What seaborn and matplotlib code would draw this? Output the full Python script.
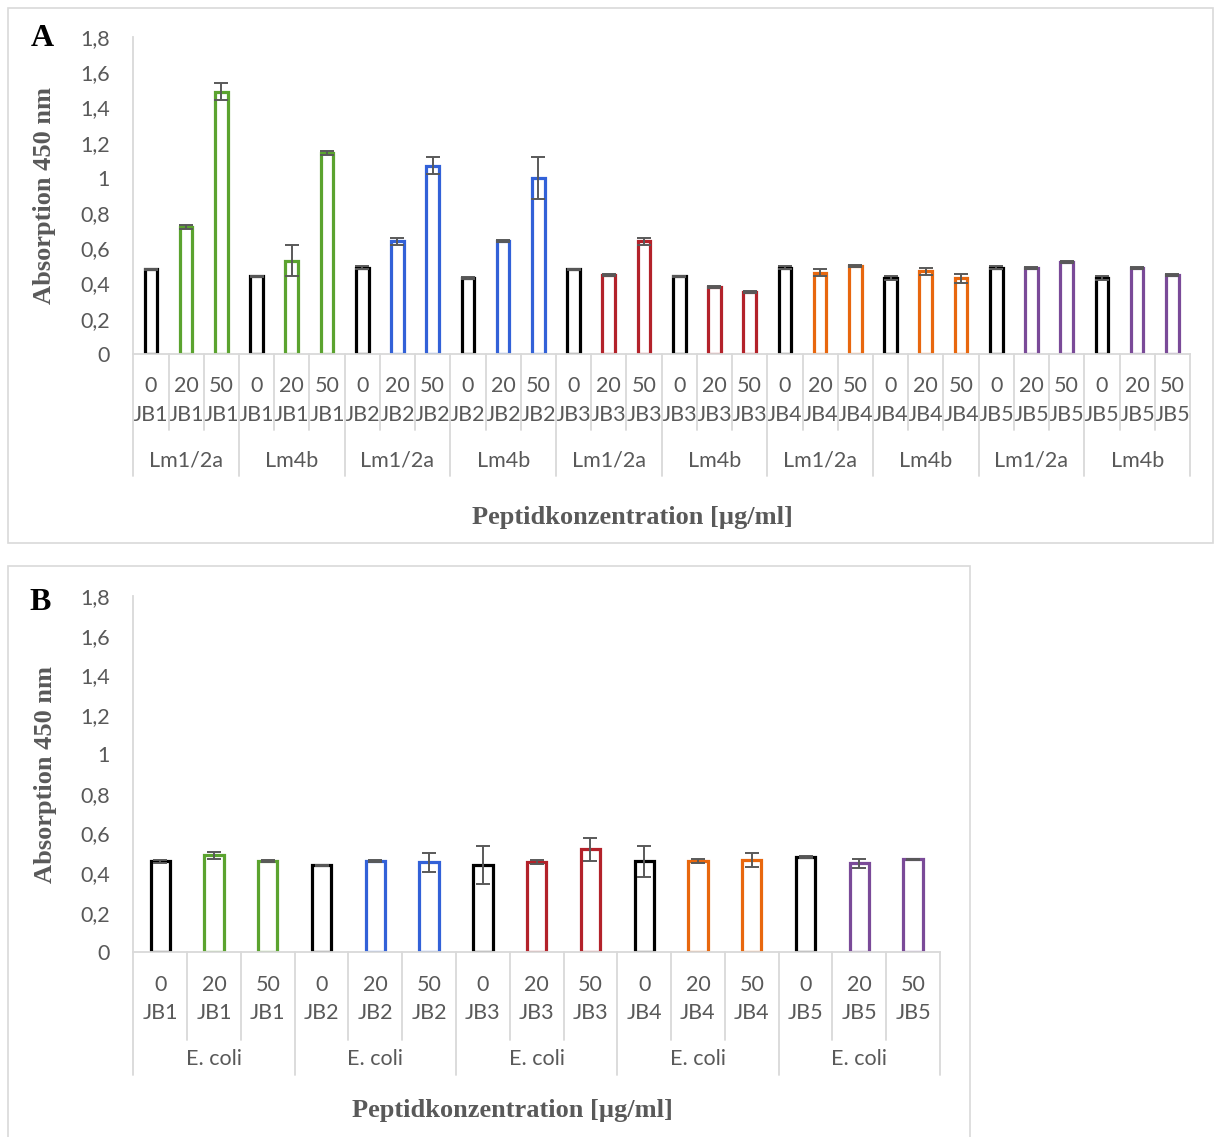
import numpy as np
import pandas as pd
import matplotlib
matplotlib.use('Agg')
import matplotlib.pyplot as plt
import matplotlib.transforms as mtransforms
from matplotlib.patches import Rectangle
import seaborn as sns

# ---- data ----
conc_a = ["0", "20", "50"] * 10
pep_a = ["JB1"] * 6 + ["JB2"] * 6 + ["JB3"] * 6 + ["JB4"] * 6 + ["JB5"] * 6
strain_a = ["Lm1/2a", "Lm4b"] * 5
val_a = [0.48, 0.72, 1.49, 0.44, 0.53, 1.14,
         0.49, 0.64, 1.07, 0.43, 0.64, 1.00,
         0.48, 0.45, 0.64, 0.44, 0.38, 0.35,
         0.49, 0.46, 0.50, 0.43, 0.47, 0.43,
         0.49, 0.49, 0.52, 0.43, 0.49, 0.45]
err_a = [0.005, 0.01, 0.05, 0.005, 0.09, 0.01,
         0.01, 0.02, 0.05, 0.005, 0.005, 0.12,
         0.005, 0.005, 0.02, 0.005, 0.005, 0.005,
         0.01, 0.02, 0.005, 0.01, 0.02, 0.025,
         0.01, 0.005, 0.005, 0.01, 0.005, 0.005]

conc_b = ["0", "20", "50"] * 5
pep_b = ["JB1"] * 3 + ["JB2"] * 3 + ["JB3"] * 3 + ["JB4"] * 3 + ["JB5"] * 3
strain_b = ["E. coli"] * 5
val_b = [0.46, 0.49, 0.46, 0.44, 0.46, 0.455,
         0.44, 0.455, 0.52, 0.46, 0.46, 0.465,
         0.48, 0.45, 0.47]
err_b = [0.008, 0.018, 0.005, 0.002, 0.005, 0.048,
         0.095, 0.01, 0.06, 0.078, 0.01, 0.035,
         0.005, 0.024, 0.002]

ytick_vals = [0, 0.2, 0.4, 0.6, 0.8, 1.0, 1.2, 1.4, 1.6, 1.8]
ytick_labels = ["0", "0,2", "0,4", "0,6", "0,8", "1", "1,2", "1,4", "1,6", "1,8"]

pep_colors = {"JB1": "#5ba32f", "JB2": "#3261d8", "JB3": "#b3222a",
              "JB4": "#e8670e", "JB5": "#7a4a98"}

sns.set_style('white')
plt.rcParams['font.family'] = ['Lato', 'DejaVu Sans']
GRAY = '#595959'
LINE = '#d9d9d9'
SERIF = 'Liberation Serif'
FS = 15.5


def draw_panel(ax, conc, pep, strain, val, err, ylab_x, row_depth, grp_depth, grp_y):
    n = len(val)
    df = pd.DataFrame({'idx': [str(i) for i in range(n)], 'val': val, 'err': err})
    cols = ['#000000' if c == "0" else pep_colors[p] for c, p in zip(conc, pep)]
    sns.barplot(data=df, x='idx', y='val', hue='idx', palette=cols, fill=False,
                linewidth=2.3, width=0.36, legend=False, errorbar=None, ax=ax)
    ax.errorbar(np.arange(n), df['val'], yerr=df['err'], fmt='none', ecolor=GRAY,
                elinewidth=1.4, capsize=5, capthick=1.4, zorder=5)
    ax.set_xlim(-0.5, n - 0.5)
    ax.set_ylim(0, 1.8)
    ax.set_yticks(ytick_vals)
    ax.set_yticklabels(ytick_labels)
    ax.set_xticks(range(n))
    ax.set_xticklabels([c + "\n" + p for c, p in zip(conc, pep)], linespacing=1.55)
    ax.tick_params(axis='x', length=0, pad=16, labelsize=FS, labelcolor=GRAY)
    ax.tick_params(axis='y', length=7, width=1.2, color=LINE, pad=10, labelsize=FS, labelcolor=GRAY)
    for s in ['top', 'right']:
        ax.spines[s].set_visible(False)
    for s in ['left', 'bottom']:
        ax.spines[s].set_color(LINE)
        ax.spines[s].set_linewidth(1.3)
    ax.set_xlabel('')
    ax.set_ylabel('Absorption 450 nm', fontfamily=SERIF, fontweight='bold', fontsize=19, color=GRAY)
    ax.yaxis.set_label_coords(ylab_x, 0.5)
    trans = mtransforms.blended_transform_factory(ax.transData, ax.transAxes)
    for i in range(n + 1):
        d = grp_depth if i % 3 == 0 else row_depth
        ax.plot([i - 0.5, i - 0.5], [0, d], transform=trans, color=LINE, lw=1.3, clip_on=False)
    for g, lab in enumerate(strain):
        ax.text(g * 3 + 1, grp_y, lab, transform=trans,
                ha='center', va='center', fontsize=FS, color=GRAY)


fig = plt.figure(figsize=(12.14, 11.37), dpi=100)
axA = fig.add_axes([0.1098, 0.6887, 0.8704, 0.2788])
axB = fig.add_axes([0.1098, 0.1624, 0.6645, 0.3134])

draw_panel(axA, conc_a, pep_a, strain_a, val_a, err_a, -0.073, -0.24, -0.385, -0.3375)
draw_panel(axB, conc_b, pep_b, strain_b, val_b, err_b, -0.095, -0.247, -0.345, -0.298)

fig.text(632 / 1214, 1 - 517 / 1137, 'Peptidkonzentration [µg/ml]', ha='center', va='center',
         fontfamily=SERIF, fontweight='bold', fontsize=19, color=GRAY)
fig.text(512 / 1214, 1 - 1111 / 1137, 'Peptidkonzentration [µg/ml]', ha='center', va='center',
         fontfamily=SERIF, fontweight='bold', fontsize=19, color=GRAY)
fig.text(42 / 1214, 1 - 39 / 1137, 'A', ha='center', va='center',
         fontfamily=SERIF, fontweight='bold', fontsize=23, color='black')
fig.text(40 / 1214, 1 - 603 / 1137, 'B', ha='center', va='center',
         fontfamily=SERIF, fontweight='bold', fontsize=23, color='black')

# panel frames
fig.patches.append(Rectangle((8 / 1214, 1 - 543 / 1137), 1205 / 1214, 535 / 1137,
                             transform=fig.transFigure, fill=False, edgecolor=LINE, lw=1.2))
fig.patches.append(Rectangle((8 / 1214, -0.01), 962 / 1214, 1 - 566 / 1137 + 0.01,
                             transform=fig.transFigure, fill=False, edgecolor=LINE, lw=1.2))

fig.savefig('out.png', dpi=100)
